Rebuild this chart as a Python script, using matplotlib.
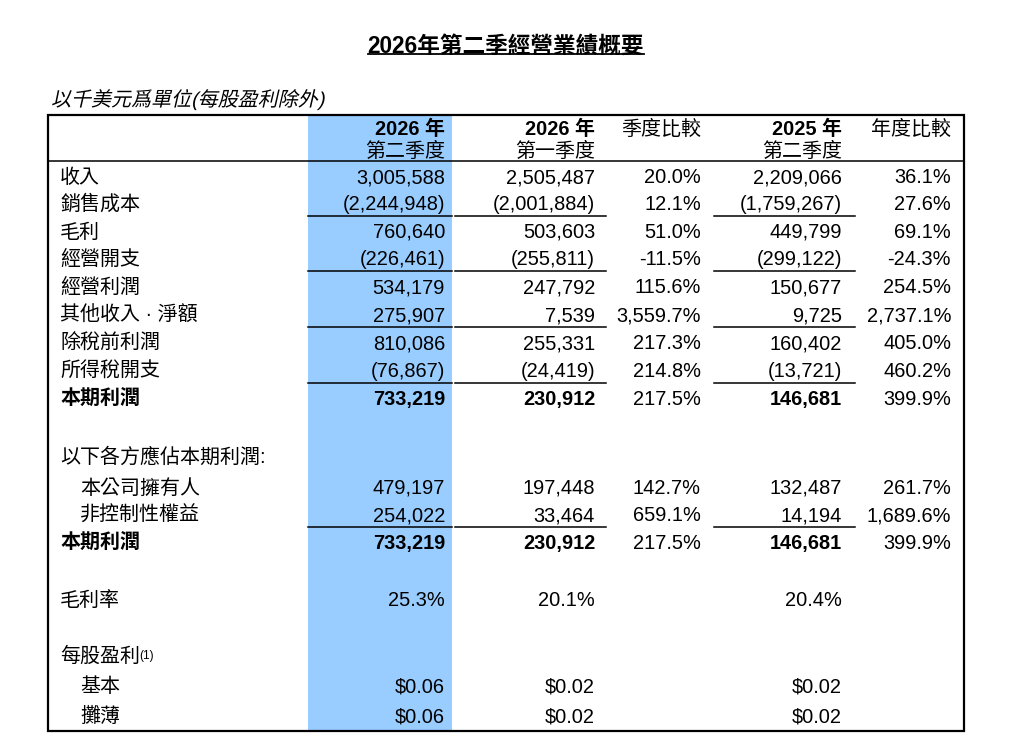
import matplotlib
matplotlib.use('Agg')
import matplotlib.pyplot as plt
from matplotlib.patches import Rectangle
from matplotlib.patheffects import AbstractPathEffect
from matplotlib.transforms import Affine2D

plt.rcParams['font.family'] = ['Liberation Sans', 'Noto Sans CJK TC', 'DejaVu Sans']

title = '2026年第二季經營業績概要'
subtitle = '以千美元爲單位(每股盈利除外)'
col_head_top = ['2026 年', '2026 年', '季度比較', '2025 年', '年度比較']
col_head_bot = ['第二季度', '第一季度', '', '第二季度', '']

# income statement block
labels = ['收入', '銷售成本', '毛利', '經營開支', '經營利潤', '其他收入 · 淨額',
          '除稅前利潤', '所得稅開支', '本期利潤']
q2_2026 = [3005588, -2244948, 760640, -226461, 534179, 275907, 810086, -76867, 733219]
q1_2026 = [2505487, -2001884, 503603, -255811, 247792, 7539, 255331, -24419, 230912]
qoq = [20.0, 12.1, 51.0, -11.5, 115.6, 3559.7, 217.3, 214.8, 217.5]
q2_2025 = [2209066, -1759267, 449799, -299122, 150677, 9725, 160402, -13721, 146681]
yoy = [36.1, 27.6, 69.1, -24.3, 254.5, 2737.1, 405.0, 460.2, 399.9]

# attribution block
attr_title = '以下各方應佔本期利潤:'
attr_labels = ['本公司擁有人', '非控制性權益', '本期利潤']
attr_q2_2026 = [479197, 254022, 733219]
attr_q1_2026 = [197448, 33464, 230912]
attr_qoq = [142.7, 659.1, 217.5]
attr_q2_2025 = [132487, 14194, 146681]
attr_yoy = [261.7, 1689.6, 399.9]

margin_label = '毛利率'
margin = [25.3, 20.1, 20.4]

eps_title = '每股盈利'
eps_labels = ['基本', '攤薄']
eps_basic = [0.06, 0.02, 0.02]
eps_diluted = [0.06, 0.02, 0.02]

underlined_rows = ['銷售成本', '經營開支', '其他收入 · 淨額', '所得稅開支', '非控制性權益']
bold_rows = ['本期利潤']


def fmt_num(v):
    return f'({-v:,})' if v < 0 else f'{v:,}'


def fmt_pct(v):
    return f'{v:,.1f}%'


class Slant(AbstractPathEffect):
    # fake italic for the CJK glyphs, which have no italic face
    def __init__(self, deg=13):
        super().__init__()
        self.skew = Affine2D().skew_deg(deg, 0)

    def draw_path(self, renderer, gc, tpath, affine, rgbFace=None):
        renderer.draw_path(gc, tpath, self.skew + affine, rgbFace)


fig = plt.figure(figsize=(10.24, 7.54), dpi=100)
ax = fig.add_axes([0, 0, 1, 1])
ax.set_xlim(0, 1024)
ax.set_ylim(754, 0)
ax.axis('off')

FS = 14.4
BL = 7  # baseline offset from row centre
box_l, box_r, box_t, box_b = 48, 964, 115, 731
hl_l, hl_r = 308, 452
col_right = [445, 595, 701, 842, 951]
line_spans = [(hl_l, hl_r), (455, 606), (714, 855)]
label_x, indent_x = 60, 80

ax.add_patch(Rectangle((hl_l, box_t), hl_r - hl_l, box_b - box_t,
                       facecolor='#99CCFF', edgecolor='none', zorder=0))
ax.add_patch(Rectangle((box_l, box_t), box_r - box_l, box_b - box_t,
                       facecolor='none', edgecolor='black', lw=1.6, zorder=3))
ax.plot([box_l, box_r], [161, 161], color='black', lw=1.1, zorder=3)

t = ax.text(506, 45 + 8, title, ha='center', va='baseline', fontsize=16.3,
            fontweight='bold')
ax.text(51, 99 + BL, subtitle, ha='left', va='baseline', fontsize=FS,
        path_effects=[Slant()])

for i in range(5):
    head_bold = col_head_top[i][0].isdigit()
    ax.text(col_right[i], 128 + BL, col_head_top[i], ha='right', va='baseline',
            fontsize=FS, fontweight='bold' if head_bold else 'normal')
    if col_head_bot[i]:
        ax.text(col_right[i], 150 + BL, col_head_bot[i], ha='right',
                va='baseline', fontsize=FS)


def draw_row(y, label, vals, pcts, indent=False):
    w = 'bold' if label in bold_rows else 'normal'
    ax.text(indent_x if indent else label_x, y + BL, label, ha='left',
            va='baseline', fontsize=FS, fontweight=w)
    for c, v in zip([0, 1, 3], vals):
        ax.text(col_right[c], y + BL, v, ha='right', va='baseline',
                fontsize=FS, fontweight=w)
    for c, p in zip([2, 4], pcts):
        ax.text(col_right[c], y + BL, p, ha='right', va='baseline', fontsize=FS)
    if label in underlined_rows:
        for x0, x1 in line_spans:
            ax.plot([x0, x1], [y + 13, y + 13], color='black', lw=1.1, zorder=3)


row_y = [176, 203, 231, 258, 286, 314, 342, 370, 398]
for y, lab, a, b, c, d, e in zip(row_y, labels, q2_2026, q1_2026, qoq, q2_2025, yoy):
    draw_row(y, lab, [fmt_num(a), fmt_num(b), fmt_num(d)], [fmt_pct(c), fmt_pct(e)])

ax.text(label_x, 456 + BL, attr_title, ha='left', va='baseline', fontsize=FS)
attr_y = [487, 514, 542]
for y, lab, a, b, c, d, e in zip(attr_y, attr_labels, attr_q2_2026, attr_q1_2026,
                                 attr_qoq, attr_q2_2025, attr_yoy):
    draw_row(y, lab, [fmt_num(a), fmt_num(b), fmt_num(d)], [fmt_pct(c), fmt_pct(e)],
             indent=lab not in bold_rows)

draw_row(599, margin_label, [fmt_pct(v) for v in margin], [])

ax.text(label_x, 655 + BL, eps_title, ha='left', va='baseline', fontsize=FS)
ax.text(label_x + 79, 655 + BL - 3, '(1)', ha='left', va='baseline', fontsize=8.5)
for y, lab, vals in zip([685, 715], eps_labels, [eps_basic, eps_diluted]):
    draw_row(y, lab, [f'${v:.2f}' for v in vals], [], indent=True)

# title underline measured from the rendered title
fig.canvas.draw()
bb = t.get_window_extent().transformed(ax.transData.inverted())
ax.plot([bb.x0, bb.x1], [54, 54], color='black', lw=1.3)

fig.savefig('out.png', dpi=100)
